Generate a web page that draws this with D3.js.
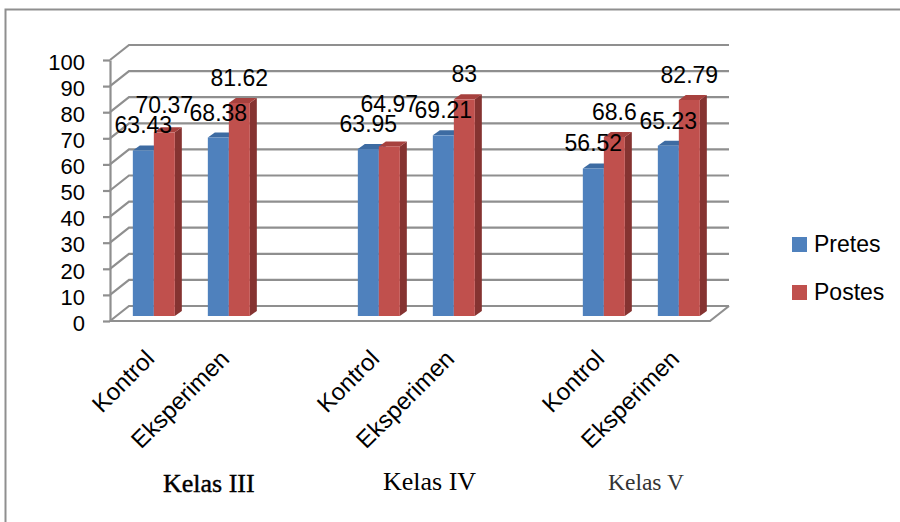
<!DOCTYPE html>
<html>
<head>
<meta charset="utf-8">
<script src="https://cdn.jsdelivr.net/npm/d3@7"></script>
<style>
  html, body { margin: 0; padding: 0; background: #fff; }
  svg { display: block; }
</style>
</head>
<body>
<svg id="chart" width="900" height="522"></svg>
<script>
// Pretest / posttest means per class, control vs experiment group
const groups = ["Kelas III", "Kelas IV", "Kelas V"];
const categories = ["Kontrol", "Eksperimen"];
const seriesNames = ["Pretes", "Postes"];
const pretes = [63.43, 68.38, 63.95, 69.21, 56.52, 65.23];
const postes = [70.37, 81.62, 64.97, 83, 68.6, 82.79];
const yTicks = [0, 10, 20, 30, 40, 50, 60, 70, 80, 90, 100];

const svg = d3.select("#chart");
const sans = "'Liberation Sans', Arial, sans-serif";
const serif = "'Liberation Serif', 'Times New Roman', serif";

// outer frame
svg.append("path")
  .attr("d", "M5.5,522 L5.5,9.5 L900,9.5")
  .attr("fill", "none").attr("stroke", "#8f8f8f").attr("stroke-width", 2);

// layout: each class takes two slots plus an empty spacer slot
const slotCount = groups.length * 3 - 1;
const slotIndex = (g, c) => g * 3 + c;

const x = d3.scaleBand().domain(d3.range(slotCount)).range([110, 710]).padding(0);
const y = d3.scaleLinear().domain([0, 100]).range([321, 60]);
const inner = d3.scaleBand().domain(seriesNames).range([-21, 21]).padding(0);

// 3D depth of the back wall and of the bars
const wall = { dx: 19, dy: -15 };
const barOff = { dx: wall.dx / 3, dy: wall.dy / 3 };
const barDepth = { dx: 7, dy: -5 };

const gridColor = "#8f8f8f";
const grid = svg.append("g").attr("fill", "none").attr("stroke", gridColor).attr("stroke-width", 2.2);

const x0 = x.range()[0], x1 = x.range()[1];

// gridlines: side-wall diagonal + back-wall horizontal
grid.selectAll("path.gl").data(yTicks).join("path")
  .attr("class", "gl")
  .attr("d", v => d3.line()([
    [x0, y(v)],
    [x0 + wall.dx, y(v) + wall.dy],
    [x1 + wall.dx, y(v) + wall.dy]
  ]));

// floor front edge and right edge
grid.append("path").attr("d", d3.line()([
  [x0, y(0)], [x1, y(0)], [x1 + wall.dx, y(0) + wall.dy]
]));

// value axis on the front-left edge
const axis = svg.append("g")
  .attr("transform", `translate(${x0},0)`)
  .call(d3.axisLeft(y).tickValues(yTicks).tickSize(7).tickSizeOuter(0).tickPadding(18).tickFormat(d3.format("d")));
axis.select(".domain").attr("stroke", gridColor).attr("stroke-width", 2.2);
axis.selectAll(".tick line").attr("stroke", gridColor).attr("stroke-width", 2.2);
axis.selectAll(".tick text")
  .attr("font-family", sans).attr("font-size", 22).attr("fill", "#000")
  .attr("dy", "0.42em");

// bars
const colors = {
  Pretes: { front: "#4f81bd", top: "#3d6ba2", side: "#355f91" },
  Postes: { front: "#c0504d", top: "#a7413e", side: "#853331" }
};

const bars = [];
groups.forEach((g, gi) => {
  categories.forEach((c, ci) => {
    const s = slotIndex(gi, ci);
    const center = x(s) + x.bandwidth() / 2 + barOff.dx;
    bars.push({ series: "Pretes", value: pretes[gi * 2 + ci], center });
    bars.push({ series: "Postes", value: postes[gi * 2 + ci], center });
  });
});

const barG = svg.append("g");
bars.forEach(b => {
  const bx0 = b.center + inner(b.series);
  const bx1 = bx0 + inner.bandwidth();
  const yt = y(b.value) + barOff.dy;
  const yb = y(0) + barOff.dy;
  const col = colors[b.series];
  const g = barG.append("g");
  g.append("path").attr("fill", col.side).attr("d", d3.line()([
    [bx1, yt], [bx1 + barDepth.dx, yt + barDepth.dy], [bx1 + barDepth.dx, yb + barDepth.dy], [bx1, yb]
  ]) + "Z");
  g.append("path").attr("fill", col.top).attr("d", d3.line()([
    [bx0, yt], [bx1, yt], [bx1 + barDepth.dx, yt + barDepth.dy], [bx0 + barDepth.dx, yt + barDepth.dy]
  ]) + "Z");
  g.append("rect").attr("fill", col.front)
    .attr("x", bx0).attr("y", yt).attr("width", bx1 - bx0).attr("height", yb - yt);
  b.labelX = (bx0 + bx1) / 2;
  b.labelY = yt - 17;
});

// a posttest label sitting too close to its pretest neighbour is lifted above it
for (let i = 0; i < bars.length; i += 2) {
  const pre = bars[i], post = bars[i + 1];
  post.labelY = Math.min(post.labelY, pre.labelY - 20);
}

// value labels
svg.append("g").selectAll("text").data(bars).join("text")
  .attr("x", d => d.labelX).attr("y", d => d.labelY)
  .attr("text-anchor", "middle")
  .attr("font-family", sans).attr("font-size", 23).attr("fill", "#000")
  .text(d => d.value);

// rotated category labels
const catLabels = [];
groups.forEach((g, gi) => categories.forEach((c, ci) => catLabels.push({ s: slotIndex(gi, ci), text: c })));
svg.append("g").selectAll("text").data(catLabels).join("text")
  .attr("transform", d => `translate(${x(d.s) + x.bandwidth() / 2 - 4},348) rotate(-45)`)
  .attr("text-anchor", "end").attr("dy", "0.72em")
  .attr("font-family", sans).attr("font-size", 24).attr("fill", "#000")
  .text(d => d.text);

// class names under each pair
const groupLabelX = [163, 383, 608];
const groupLabelY = [492, 490, 490];
const groupLabelSize = [26, 26, 23.5];
const groupLabelFill = ["#000", "#000", "#333"];
svg.append("g").selectAll("text").data(groups).join("text")
  .attr("x", (d, i) => groupLabelX[i]).attr("y", (d, i) => groupLabelY[i])
  .attr("font-family", serif).attr("font-size", (d, i) => groupLabelSize[i])
  .attr("fill", (d, i) => groupLabelFill[i])
  .attr("stroke", (d, i) => i === 0 ? "#000" : "none").attr("stroke-width", 0.4)
  .text(d => d);

// legend
const legend = svg.append("g").selectAll("g").data(seriesNames).join("g")
  .attr("transform", (d, i) => `translate(792,${237 + i * 48})`);
legend.append("rect").attr("width", 15).attr("height", 15).attr("fill", d => colors[d].front);
legend.append("text").attr("x", 22).attr("y", 15)
  .attr("font-family", sans).attr("font-size", 23).attr("fill", "#000")
  .text(d => d);
</script>
</body>
</html>
